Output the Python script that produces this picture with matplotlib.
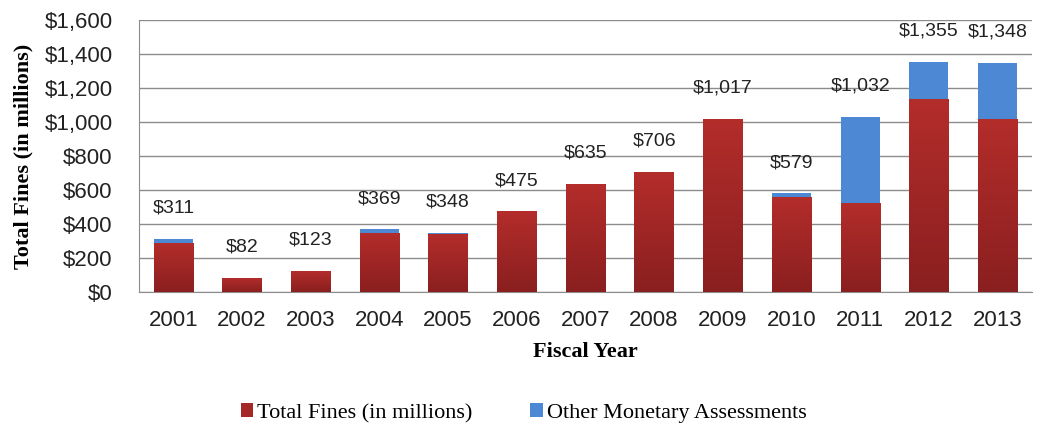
import numpy as np
import matplotlib.pyplot as plt
from matplotlib.colors import LinearSegmentedColormap

years = ['2001', '2002', '2003', '2004', '2005', '2006', '2007',
         '2008', '2009', '2010', '2011', '2012', '2013']
totals = [311, 82, 123, 369, 348, 475, 635, 706, 1017, 579, 1032, 1355, 1348]
fines = [285, 82, 123, 345, 340, 475, 635, 706, 1017, 555, 521, 1133, 1015]
other = [t - f for t, f in zip(totals, fines)]

sans = ['Liberation Sans', 'DejaVu Sans']
serif = ['Liberation Serif', 'DejaVu Serif']

fig = plt.figure(figsize=(10.37, 4.26), dpi=100)
ax = fig.add_axes([0.134, 0.315, 0.861, 0.638])

x = np.arange(len(years))
red = '#a52828'
blue = '#4d88d4'
red_bars = ax.bar(x, fines, width=0.57, color=red, label='Total Fines (in millions)', zorder=3)
ax.bar(x, other, width=0.57, bottom=fines, color=blue,
       label='Other Monetary Assessments', zorder=3)

# vertical shading on the red bars: lighter at the top, darker at the base
shade = LinearSegmentedColormap.from_list('shade', ['#8a1f1f', '#b32d2b'])
grad = np.linspace(0, 1, 256).reshape(-1, 1)
for bar in red_bars:
    x0, y0 = bar.get_x(), bar.get_y()
    w, h = bar.get_width(), bar.get_height()
    ax.imshow(grad, cmap=shade, origin='lower', aspect='auto',
              extent=(x0, x0 + w, y0, y0 + h), clip_path=bar, zorder=3.5)

for xi, t in zip(x, totals):
    ax.annotate(f'${t:,}', (xi, t), xytext=(0, 22), textcoords='offset points',
                ha='center', va='center', fontsize=14, family=sans, color='#222222',
                zorder=5)

ax.set_xlim(-0.5, len(years) - 0.5)
ax.set_ylim(0, 1600)
ax.set_yticks(range(0, 1601, 200))
ax.set_yticklabels([f'${v:,}' for v in range(0, 1601, 200)], family=sans, fontsize=16)
ax.set_xticks(x)
ax.set_xticklabels(years, family=sans, fontsize=16)
ax.tick_params(axis='y', length=0, pad=19, colors='#222222')
ax.tick_params(axis='x', length=0, pad=13, colors='#222222')

ax.grid(axis='y', color='#8c8c8c', linewidth=1, zorder=0)
for s in ['top', 'right']:
    ax.spines[s].set_visible(False)
for s in ['left', 'bottom']:
    ax.spines[s].set_color('#8c8c8c')

ax.set_ylabel('Total Fines (in millions)', family=serif, fontweight='bold', fontsize=16)
ax.yaxis.set_label_coords(-0.129, 0.5)
ax.yaxis.label.set_va('center')
ax.set_xlabel('Fiscal Year', family=serif, fontweight='bold', fontsize=16)
ax.xaxis.set_label_coords(0.5, -0.222)
ax.xaxis.label.set_va('center')

fig.legend(loc='center', bbox_to_anchor=(0.505, 0.03), ncol=2, frameon=False,
           prop={'family': serif, 'size': 16}, handlelength=0.55, handleheight=0.55,
           handletextpad=0.2, columnspacing=2.6)

fig.savefig('out.png', dpi=100)
